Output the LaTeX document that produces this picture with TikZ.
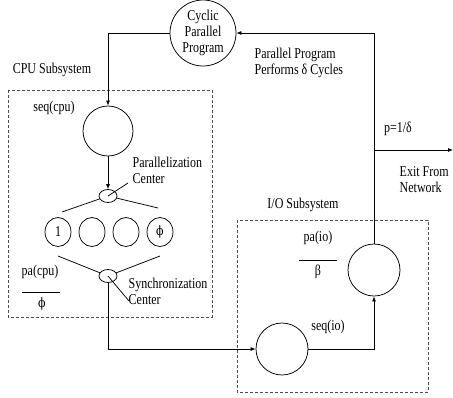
\documentclass[tikz,border=0pt]{standalone}
\usepackage{fontspec}
\setmainfont{Liberation Serif}[FakeStretch=0.8]
\newfontfamily\phifont{DejaVu Serif}[FakeStretch=0.85]
\usetikzlibrary{arrows.meta,shapes.geometric}

\newcommand{\phisym}{{\phifont\fontsize{13}{15}\selectfont ϕ}}

\tikzset{
  arr/.style={-{Latex[length=5pt,width=4pt]}},
  ring/.style={draw,circle,inner sep=0pt},
  cell/.style={draw,ellipse,minimum width=26pt,minimum height=29pt,inner sep=0pt},
  hub/.style={draw,ellipse,minimum width=18pt,minimum height=13pt,inner sep=0pt},
  subsys/.style={draw=black!70,line width=0.6pt,dash pattern=on 3pt off 2pt},
  lbl/.style={font=\fontsize{15}{16}\selectfont}
}

\begin{document}
\begin{tikzpicture}[x=1pt,y=-1pt,line width=0.75pt]
    \useasboundingbox (0,0) rectangle (453,397);

    % 两个子系统的虚线框
    \draw[subsys] (8,90) rectangle (212,317);
    \draw[subsys] (237,220) rectangle (428,392);
    \node[lbl] at (52,70) {CPU Subsystem};
    \node[lbl] at (303,205) {I/O Subsystem};

    % 循环并行程序
    \node[ring,minimum size=66pt,lbl,align=center] (cyc) at (203,33) {Cyclic\\Parallel\\Program};
    \node[lbl,anchor=west,align=left] at (251,63) {Parallel Program\\Performs δ Cycles};

    % CPU 子系统
    \node[ring,minimum size=50pt] (seqcpu) at (108,131) {};
    \node[lbl] at (54,108) {seq(cpu)};
    \node[hub] (par) at (108,196) {};
    \foreach \i/\x/\t in {1/58/1,2/92/,3/126/,4/160/\phisym}
      \node[cell,lbl] (p\i) at (\x,232) {\t};
    \node[hub] (sync) at (108,276) {};

    \coordinate (pl) at (62,212);
    \coordinate (pr) at (158,208);
    \coordinate (sl) at (58,256);
    \coordinate (sr) at (160,256);
    \draw (par) -- (pl);
    \draw (par) -- (pr);
    \draw (sync) -- (sl);
    \draw (sync) -- (sr);

    % 标注及引线
    \node[lbl,anchor=west,align=left] (parlbl) at (129,170) {Parallelization\\Center};
    \node[lbl,anchor=west,align=left] (synclbl) at (125,291) {Synchronization\\Center};
    \coordinate (parend) at (128,183);
    \coordinate (syncend) at (129,301);
    \draw (par.center) -- (parend);
    \draw (sync.center) -- (syncend);

    \node[lbl] (pacpu) at (40,272) {pa(cpu)};
    \draw (22,292) -- (60,292);
    \node[lbl] at (42,304) {\phisym};

    % I/O 子系统
    \node[ring,minimum size=52pt] (seqio) at (282,349) {};
    \node[ring,minimum size=52pt] (paio) at (374,270) {};
    \node[lbl] at (328,327) {seq(io)};
    \node[lbl] at (318,238) {pa(io)};
    \draw (299,260) -- (337,260);
    \node[lbl] at (318,272) {β};

    % 连接箭头
    \draw[arr] (cyc.west) -| (seqcpu.north);
    \draw[arr] (seqcpu.south) -- (par.north);
    \draw[arr] (sync.south) |- (seqio.west);
    \draw[arr] (seqio.east) -| (paio.south);
    \draw[arr] (paio.north) |- (cyc.east);

    % 离开网络
    \coordinate (fork) at (374,150);
    \coordinate (exit) at (453,150);
    \draw[arr] (fork) -- (exit);
    \node[lbl] at (398,129) {p=1/δ};
    \node[lbl,anchor=west,align=left] at (396,180) {Exit From\\Network};
\end{tikzpicture}
\end{document}
